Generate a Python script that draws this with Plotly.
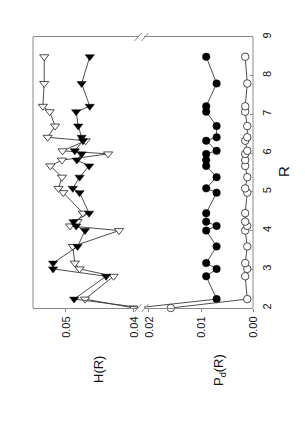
import plotly.graph_objects as go

# ---- data ----
R = [2.00, 2.23, 2.82, 3.01, 3.16, 3.59, 4.00, 4.12, 4.23, 4.45, 4.98, 5.09,
     5.38, 5.67, 5.82, 5.98, 6.06, 6.32, 6.41, 6.70, 7.07, 7.21, 7.80, 8.49]
H_filled = [0.0385, 0.0488, 0.0441, 0.0519, 0.0519, 0.0483, 0.0472, 0.0485,
            0.0489, 0.0466, 0.0480, 0.0490, 0.0480, 0.0466, 0.0484, 0.0477,
            0.0487, 0.0475, 0.0477, 0.0482, 0.0485, 0.0465, 0.0477, 0.0465]
H_open = [0.0400, 0.0472, 0.0430, 0.0480, 0.0487, 0.0490, 0.0422, 0.0494,
          0.0483, 0.0475, 0.0504, 0.0511, 0.0506, 0.0523, 0.0506, 0.0438,
          0.0505, 0.0471, 0.0527, 0.0516, 0.0524, 0.0534, 0.0532, 0.0532]
Pd_filled = [0.0225, 0.0070, 0.0090, 0.0070, 0.0090, 0.0070, 0.0090, 0.0070,
             0.0090, 0.0090, 0.0070, 0.0090, 0.0070, 0.0090, 0.0090, 0.0090,
             0.0070, 0.0090, 0.0070, 0.0070, 0.0090, 0.0090, 0.0070, 0.0090]
Pd_open = [0.0158, 0.0011, 0.0015, 0.0011, 0.0015, 0.0011, 0.0015, 0.0011,
           0.0015, 0.0015, 0.0011, 0.0015, 0.0011, 0.0015, 0.0015, 0.0015,
           0.0011, 0.0015, 0.0011, 0.0011, 0.0015, 0.0015, 0.0011, 0.0015]

H_ticks = [0.05, 0.04]
Pd_ticks = [0.02, 0.01, 0.00]
R_ticks = [2, 3, 4, 5, 6, 7, 8, 9]

FONT = "Liberation Sans, Arial, sans-serif"
LINE = dict(color="#3a3a3a", width=0.9)
FRAME = "#8a8a8a"

fig = go.Figure()
fig.add_trace(go.Scatter(x=H_open, y=R, xaxis="x", yaxis="y", mode="lines+markers",
                         line=LINE,
                         marker=dict(symbol="triangle-down", size=8, color="white",
                                     line=dict(color="#222", width=0.8))))
fig.add_trace(go.Scatter(x=H_filled, y=R, xaxis="x", yaxis="y", mode="lines+markers",
                         line=LINE,
                         marker=dict(symbol="triangle-down", size=8, color="black",
                                     line=dict(color="black", width=0.5))))
fig.add_trace(go.Scatter(x=Pd_filled, y=R, xaxis="x2", yaxis="y", mode="lines+markers",
                         line=LINE,
                         marker=dict(symbol="circle", size=7.5, color="black",
                                     line=dict(color="black", width=0.5))))
fig.add_trace(go.Scatter(x=Pd_open, y=R, xaxis="x2", yaxis="y", mode="lines+markers",
                         line=LINE, cliponaxis=False,
                         marker=dict(symbol="circle", size=7.5, color="white",
                                     line=dict(color="#222", width=0.8))))

OFF = 8  # page body margin
W, Hh = 305 - OFF, 434 - OFF
# plot area in page pixels: x 33..253, y 37..308
L = 33 - OFF
T = 37 - OFF
Rm = W - (253 - OFF)
B = Hh - (308 - OFF)
pw = W - L - Rm
ph = Hh - T - B
x_h_end = 138
x_p_start = 144


def px(x):
    return (x - 33) / pw


def py(y):
    return (308 - y) / ph


dom_h = [0, px(x_h_end)]
dom_p = [px(x_p_start), 1]

common_x = dict(showline=True, linecolor=FRAME, linewidth=1, mirror=True,
                ticks="outside", ticklen=3, tickcolor=FRAME, tickangle=-90,
                showgrid=False, zeroline=False,
                tickfont=dict(family=FONT, size=11, color="#111"))

fig.update_layout(
    width=W, height=Hh, margin=dict(l=L, r=Rm, t=T, b=B, autoexpand=False),
    paper_bgcolor="white", plot_bgcolor="white", showlegend=False,
    xaxis=dict(domain=dom_h, range=[0.05485, 0.03941], tickvals=H_ticks,
               ticktext=[f"{v:.2f}" for v in H_ticks], anchor="y", **common_x),
    xaxis2=dict(domain=dom_p, range=[0.02096, 0.0], tickvals=Pd_ticks,
                ticktext=[f"{v:.2f}" for v in Pd_ticks], anchor="y", **common_x),
    yaxis=dict(range=[2, 9], tickvals=R_ticks, ticktext=[str(v) for v in R_ticks],
               side="right", anchor="x2", showline=False, ticks="inside", ticklen=3,
               tickcolor=FRAME, tickangle=-90, showgrid=False, zeroline=False,
               ticklabelstandoff=6,
               tickfont=dict(family=FONT, size=11, color="#111")),
)

shapes = []
shapes.append(dict(type="line", xref="paper", yref="paper", x0=0, x1=0, y0=0, y1=1,
                   line=dict(color=FRAME, width=1)))
shapes.append(dict(type="line", xref="paper", yref="paper", x0=1, x1=1, y0=0, y1=1,
                   line=dict(color=FRAME, width=1)))
for yb in (37, 308):
    for xb in (x_h_end, x_p_start + 1):
        shapes.append(dict(type="line", xref="paper", yref="paper",
                           x0=px(xb - 3.5), y0=py(yb + 4), x1=px(xb + 3.5), y1=py(yb - 4),
                           line=dict(color=FRAME, width=1)))
fig.update_layout(shapes=shapes)

ann = [
    dict(text="H(R)", x=px(98), y=py(370), textangle=-90, font=dict(size=13)),
    dict(text="P<sub>d</sub>(R)", x=px(219), y=py(370), textangle=-90, font=dict(size=13)),
    dict(text="R", x=px(283), y=py(172), textangle=-90, font=dict(size=15)),
]
for a in ann:
    a.update(xref="paper", yref="paper", showarrow=False, xanchor="center", yanchor="middle")
    a["font"].update(family=FONT, color="#111")
fig.update_layout(annotations=ann)

fig.write_html("out.html")
